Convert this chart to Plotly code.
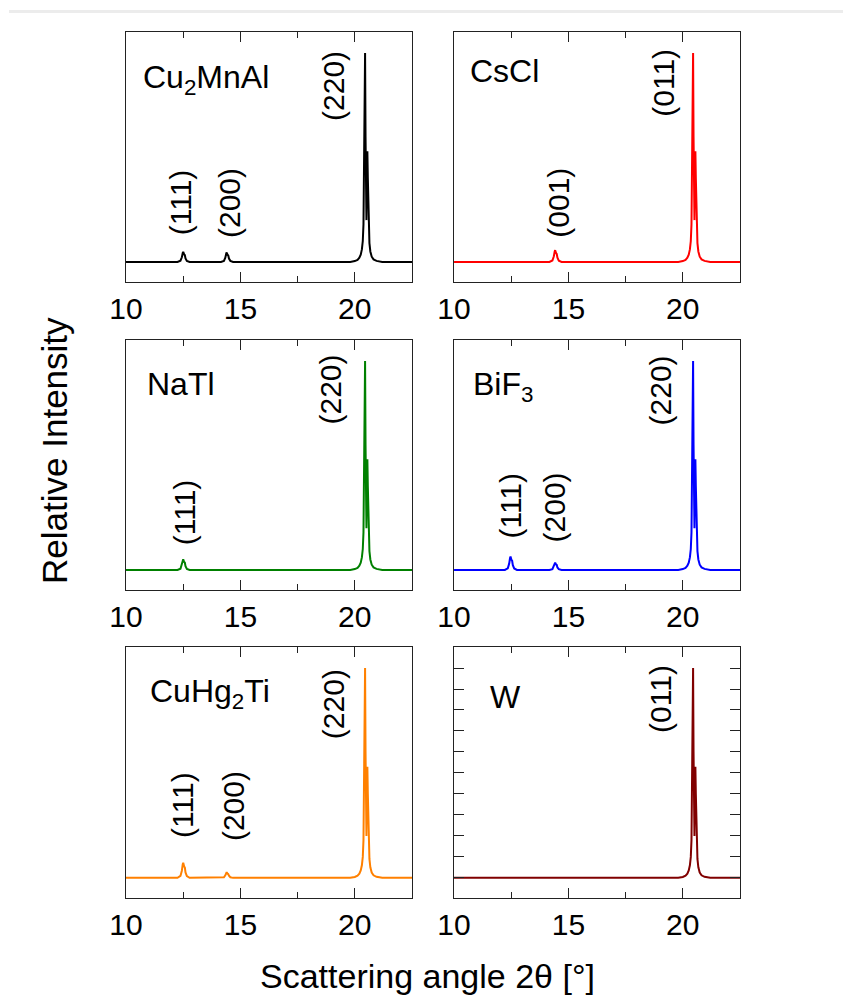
import plotly.graph_objects as go

FONT = "Liberation Sans, Arial, sans-serif"

# Strong doublet reflection near 20.5° (identical normalised profile in every pattern)
strong_tt = [19.8, 20.0, 20.12, 20.2, 20.26, 20.31, 20.35, 20.38, 20.41, 20.43, 20.45,
             20.47, 20.49, 20.51, 20.53, 20.55, 20.57, 20.6, 20.64, 20.68, 20.74,
             20.82, 20.95, 21.2]
strong_int = [0, 0.004, 0.01, 0.02, 0.035, 0.06, 0.1, 0.18, 0.5, 0.85, 1.0,
              0.6, 0.25, 0.2, 0.45, 0.53, 0.4, 0.18, 0.09, 0.05, 0.025,
              0.012, 0.005, 0]

# Weak reflections for each compound
cu2mnal_weak_tt = [12.25, 12.38, 12.44, 12.48, 12.50, 12.54, 12.57, 12.60, 12.66, 12.78,
                   14.15, 14.28, 14.34, 14.38, 14.40, 14.44, 14.47, 14.50, 14.56, 14.68]
cu2mnal_weak_int = [0, 0.006, 0.022, 0.043, 0.048, 0.036, 0.033, 0.017, 0.005, 0,
                    0, 0.005, 0.02, 0.040, 0.045, 0.034, 0.031, 0.016, 0.005, 0]

cscl_weak_tt = [14.17, 14.30, 14.36, 14.40, 14.42, 14.46, 14.49, 14.52, 14.58, 14.70]
cscl_weak_int = [0, 0.007, 0.026, 0.050, 0.056, 0.042, 0.038, 0.020, 0.006, 0]

natl_weak_tt = [12.25, 12.38, 12.44, 12.48, 12.50, 12.54, 12.57, 12.60, 12.66, 12.78]
natl_weak_int = [0, 0.006, 0.024, 0.046, 0.051, 0.038, 0.035, 0.018, 0.005, 0]

bif3_weak_tt = [12.22, 12.35, 12.41, 12.45, 12.47, 12.51, 12.54, 12.57, 12.63, 12.75,
                14.17, 14.30, 14.36, 14.40, 14.42, 14.46, 14.49, 14.52, 14.58, 14.70]
bif3_weak_int = [0, 0.008, 0.030, 0.058, 0.064, 0.048, 0.044, 0.023, 0.007, 0,
                 0, 0.004, 0.016, 0.031, 0.035, 0.026, 0.024, 0.012, 0.004, 0]

cuhg2ti_weak_tt = [12.25, 12.38, 12.44, 12.48, 12.50, 12.54, 12.57, 12.60, 12.66, 12.78,
                   14.15, 14.28, 14.34, 14.38, 14.40, 14.44, 14.47, 14.50, 14.56, 14.68]
cuhg2ti_weak_int = [0, 0.009, 0.034, 0.065, 0.072, 0.054, 0.050, 0.026, 0.008, 0,
                    0, 0.003, 0.012, 0.024, 0.027, 0.020, 0.018, 0.010, 0.003, 0]

w_weak_tt = []
w_weak_int = []

compounds = ["Cu<sub>2</sub>MnAl", "CsCl", "NaTl", "BiF<sub>3</sub>", "CuHg<sub>2</sub>Ti", "W"]
colors = ["#000000", "#ff0000", "#008000", "#0000ff", "#ff8000", "#800000"]
weak_tt = [cu2mnal_weak_tt, cscl_weak_tt, natl_weak_tt, bif3_weak_tt, cuhg2ti_weak_tt, w_weak_tt]
weak_int = [cu2mnal_weak_int, cscl_weak_int, natl_weak_int, bif3_weak_int, cuhg2ti_weak_int, w_weak_int]

# Miller-index labels: (panel, text, 2θ, intensity)
hkl_labels = [
    (0, "(220)", 19.09, 0.842), (0, "(111)", 12.39, 0.284), (0, "(200)", 14.52, 0.284),
    (1, "(011)", 19.14, 0.858), (1, "(001)", 14.55, 0.284),
    (2, "(220)", 18.94, 0.861), (2, "(111)", 12.57, 0.275),
    (3, "(220)", 19.03, 0.857), (3, "(111)", 12.48, 0.307), (3, "(200)", 14.38, 0.300),
    (4, "(220)", 19.04, 0.827), (4, "(111)", 12.46, 0.349), (4, "(200)", 14.70, 0.340),
    (5, "(011)", 19.03, 0.851),
]
# Compound name positions: (2θ of left edge, intensity)
name_pos = [(10.70, 0.875), (10.67, 0.913), (10.87, 0.892), (10.79, 0.880), (11.00, 0.880), (11.53, 0.862)]

x_range = [10, 22.5]
y_range = [-0.096, 1.1]
x_domains = [[0.1495, 0.4887], [0.5386, 0.8778]]
y_domains = [[0.7183, 0.9680], [0.4106, 0.6603], [0.1029, 0.3536]]

fig = go.Figure()
layout = dict(
    width=843, height=1001,
    margin=dict(l=0, r=0, t=0, b=0, pad=0, autoexpand=False),
    paper_bgcolor="white", plot_bgcolor="white",
    showlegend=False,
    font=dict(family=FONT, color="black"),
)
annotations = []

for i in range(6):
    row, col = divmod(i, 2)
    n = i + 1
    xa = "x" if n == 1 else f"x{n}"
    ya = "y" if n == 1 else f"y{n}"
    tt = [10.0] + weak_tt[i] + strong_tt + [22.5]
    inten = [0.0] + weak_int[i] + strong_int + [0.0]
    fig.add_trace(go.Scatter(x=tt, y=inten, mode="lines", xaxis=xa, yaxis=ya,
                             line=dict(color=colors[i], width=2), hoverinfo="skip"))
    xkey = "xaxis" if n == 1 else f"xaxis{n}"
    ykey = "yaxis" if n == 1 else f"yaxis{n}"
    layout[xkey] = dict(
        domain=x_domains[col], anchor=ya, range=x_range, automargin=False,
        showline=True, linecolor="#222", linewidth=1.3, mirror="ticks",
        ticks="inside", ticklen=10, tickwidth=1.3, tickcolor="#222",
        tick0=10, dtick=5, showgrid=False, zeroline=False,
        tickfont=dict(size=30, family=FONT, color="black"),
        minor=dict(ticks="inside", ticklen=6, tickwidth=1.3, tickcolor="#222", dtick=2.5, showgrid=False),
    )
    ydict = dict(
        domain=y_domains[row], anchor=xa, range=y_range, automargin=False,
        showline=True, linecolor="#222", linewidth=1.3, mirror=True,
        showticklabels=False, showgrid=False, zeroline=False, ticks="",
    )
    if i == 5:
        ydict.update(ticks="inside", ticklen=10, tickwidth=1.3, tickcolor="#222",
                     tick0=0, dtick=0.1, mirror="ticks")
    layout[ykey] = ydict

    nx, ny = name_pos[i]
    annotations.append(dict(text=compounds[i], x=nx, y=ny, xref=xa, yref=ya,
                            xanchor="left", yanchor="middle", showarrow=False, borderpad=0,
                            font=dict(size=32, family=FONT, color="black")))

for p, txt, hx, hy in hkl_labels:
    n = p + 1
    xa = "x" if n == 1 else f"x{n}"
    ya = "y" if n == 1 else f"y{n}"
    annotations.append(dict(text=txt, x=hx, y=hy, xref=xa, yref=ya, textangle=-90,
                            xanchor="center", yanchor="middle", showarrow=False,
                            font=dict(size=30, family=FONT, color="black")))

# Shared axis titles
annotations.append(dict(text="Relative Intensity", x=55 / 843, y=0.5495, xref="paper", yref="paper",
                        textangle=-90, xanchor="center", yanchor="middle", showarrow=False,
                        font=dict(size=35, family=FONT, color="black")))
annotations.append(dict(text="Scattering angle 2θ [°]", x=0.5077, y=1 - 976 / 1001, xref="paper", yref="paper",
                        xanchor="center", yanchor="middle", showarrow=False,
                        font=dict(size=34, family=FONT, color="black")))

layout["annotations"] = annotations
layout["shapes"] = [dict(type="rect", xref="paper", yref="paper", x0=9 / 843, x1=1,
                         y0=1 - 13 / 1001, y1=1 - 10 / 1001, line=dict(width=0), fillcolor="#ececec")]
fig.update_layout(**layout)
fig.write_html("out.html")
